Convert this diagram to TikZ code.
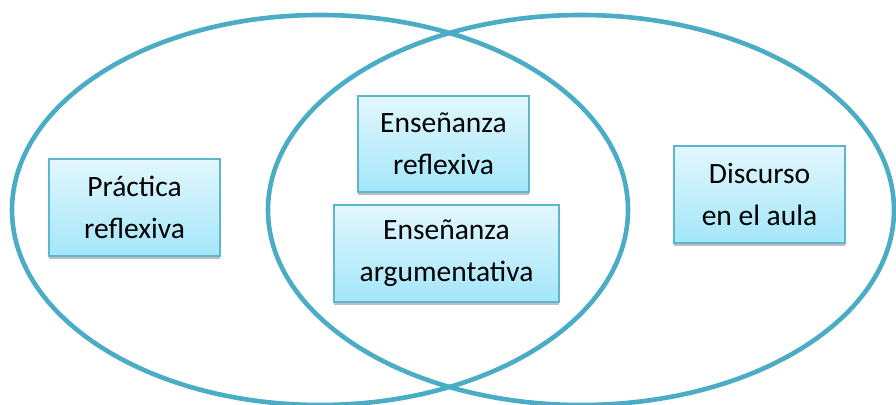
\documentclass[tikz,border=0pt]{standalone}
\usepackage{fontspec}
\setmainfont{Carlito}
\usetikzlibrary{shadows}
\definecolor{ring}{HTML}{4BACC6}
\definecolor{boxtop}{HTML}{E3F7FD}
\definecolor{boxbot}{HTML}{A3E6FA}
\definecolor{boxline}{HTML}{5DB5CE}
\tikzset{
  ringline/.style={draw=ring, line width=4.6pt},
  concept/.style={rectangle, draw=boxline, line width=1.4pt, top color=boxtop, bottom color=boxbot,
    inner sep=0pt, align=center, font=\fontsize{29.5}{42}\selectfont,
    drop shadow={shadow xshift=0pt, shadow yshift=-3pt, fill=black, opacity=0.25}}
}
\begin{document}
\begin{tikzpicture}[x=1pt,y=-1pt]
\useasboundingbox (0,0) rectangle (896,404);
\fill[white] (0,0) rectangle (896,404);
\draw[ringline] (320,210) ellipse [x radius=308pt, y radius=195pt];
\draw[ringline] (581,210) ellipse [x radius=313pt, y radius=195pt];
\node[concept, minimum width=171pt, minimum height=97pt] (pr) at (134.5,207.5) {Práctica\\reflexiva};
\node[concept, minimum width=171pt, minimum height=96pt] (er) at (443.5,144) {Enseñanza\\reflexiva};
\node[concept, minimum width=225pt, minimum height=97pt] (ea) at (446.5,253.5) {Enseñanza\\argumentativa};
\node[concept, minimum width=171pt, minimum height=97pt] (da) at (759.5,194.5) {Discurso\\en el aula};
\end{tikzpicture}
\end{document}
